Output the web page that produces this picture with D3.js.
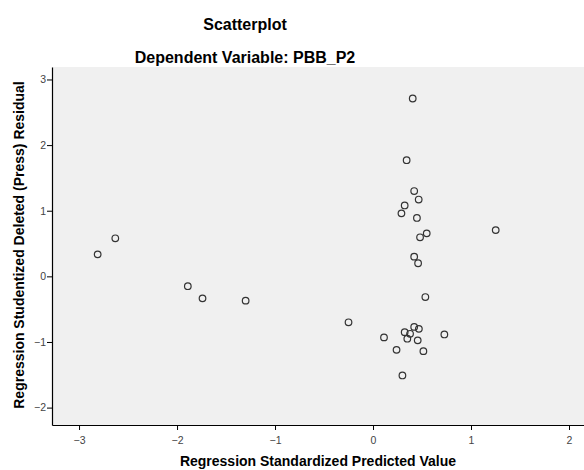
<!DOCTYPE html>
<html>
<head>
<meta charset="utf-8">
<script src="https://cdn.jsdelivr.net/npm/d3@7"></script>
<style>
body { margin: 0; background: #fff; }
.tick text { font-family: "Liberation Sans", Arial, sans-serif; font-size: 10.5px; fill: #444; }
</style>
</head>
<body>
<svg id="chart" width="584" height="470"></svg>
<script>
// predicted values (x) and residuals (y)
var predicted = [-2.81, -2.63, -1.89, -1.74, -1.30, -0.25,
  0.405, 0.343, 0.42, 0.466, 0.323, 0.29, 0.448, 0.548, 0.48, 0.42, 0.46,
  1.252,
  0.534, 0.42, 0.468, 0.323, 0.378, 0.35, 0.728, 0.112, 0.456, 0.24, 0.514, 0.30];
var residual = [0.335, 0.58, -0.15, -0.335, -0.37, -0.70,
  2.71, 1.77, 1.30, 1.17, 1.08, 0.96, 0.89, 0.655, 0.595, 0.30, 0.20,
  0.705,
  -0.315, -0.77, -0.80, -0.85, -0.875, -0.95, -0.885, -0.93, -0.975, -1.12, -1.14, -1.51];
var xTicks = [-3, -2, -1, 0, 1, 2];
var yTicks = [-2, -1, 0, 1, 2, 3];

var svg = d3.select("#chart");
var font = "'Liberation Sans', Arial, sans-serif";

var margin = {top: 67, right: 0, bottom: 45, left: 52};
var width = 584 - margin.left - margin.right,
    height = 470 - margin.top - margin.bottom;

var xScale = d3.scaleLinear().domain([-3.276, 2.153]).range([0, width]);
var yScale = d3.scaleLinear().domain([-2.265, 3.19]).range([height, 0]);

var g = svg.append("g").attr("transform", "translate(" + margin.left + "," + margin.top + ")");

// plot background
g.append("rect")
  .attr("width", width)
  .attr("height", height)
  .attr("fill", "#f0f0f0");

// axes
var xAxis = d3.axisBottom(xScale).tickValues(xTicks).tickSize(5).tickSizeOuter(0).tickFormat(d3.format("d"));
var yAxis = d3.axisLeft(yScale).tickValues(yTicks).tickSize(5).tickSizeOuter(0).tickFormat(d3.format("d"));

var gx = g.append("g").attr("transform", "translate(0," + height + ")").call(xAxis);
gx.selectAll("text").attr("dy", "1.0em");
var gy = g.append("g").call(yAxis);
gy.selectAll("text").attr("x", -6);
g.selectAll(".domain").attr("stroke", "#000").attr("stroke-width", 1.2);
g.selectAll(".tick line").attr("stroke", "#000");

// points
g.selectAll("circle.pt")
  .data(predicted)
  .enter().append("circle")
  .attr("class", "pt")
  .attr("cx", function(d) { return xScale(d); })
  .attr("cy", function(d, i) { return yScale(residual[i]); })
  .attr("r", 3.3)
  .attr("fill", "none")
  .attr("stroke", "#333")
  .attr("stroke-width", 1.2);

// titles
svg.append("text")
  .attr("x", 245).attr("y", 30)
  .attr("text-anchor", "middle")
  .style("font-family", font).style("font-size", "16px").style("font-weight", "bold")
  .text("Scatterplot");

svg.append("text")
  .attr("x", 245).attr("y", 63)
  .attr("text-anchor", "middle")
  .style("font-family", font).style("font-size", "16px").style("font-weight", "bold")
  .text("Dependent Variable: PBB_P2");

svg.append("text")
  .attr("x", 318).attr("y", 466)
  .attr("text-anchor", "middle")
  .style("font-family", font).style("font-size", "14px").style("font-weight", "bold")
  .text("Regression Standardized Predicted Value");

svg.append("text")
  .attr("transform", "translate(24,245) rotate(-90)")
  .attr("text-anchor", "middle")
  .style("font-family", font).style("font-size", "14px").style("font-weight", "bold")
  .text("Regression Studentized Deleted (Press) Residual");
</script>
</body>
</html>
